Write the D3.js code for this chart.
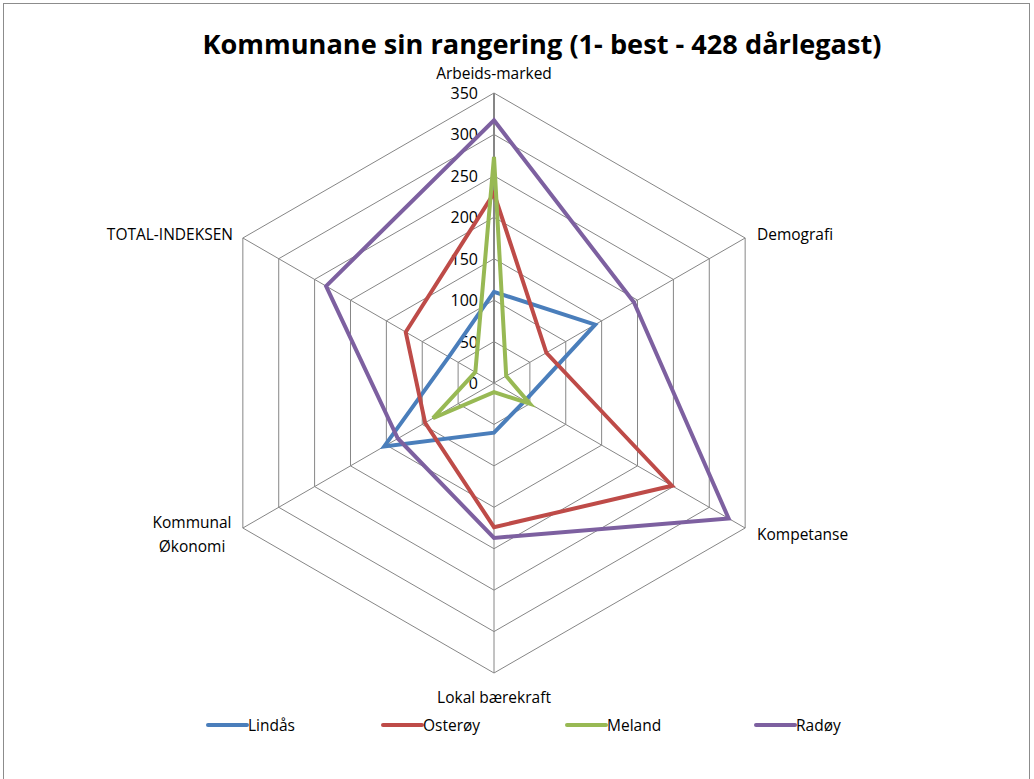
<!DOCTYPE html>
<html>
<head>
<meta charset="utf-8">
<script src="https://cdn.jsdelivr.net/npm/d3@7"></script>
<style>
  html, body { margin: 0; padding: 0; background: #fff; }
  svg { display: block; }
  text { font-family: "Open Sans", "Noto Sans", sans-serif; fill: #000; }
</style>
</head>
<body>
<svg id="chart" width="1034" height="779"></svg>
<script>
// Ranking per kommune on each index (1 = best, 428 = worst)
const axesNames = ["Arbeids-marked", "Demografi", "Kompetanse", "Lokal bærekraft", "Kommunal\nØkonomi", "TOTAL-INDEKSEN"];
const seriesNames = ["Lindås", "Osterøy", "Meland", "Radøy"];
const lindas  = [110, 141, 43, 60, 153, 63];
const osteroy = [229, 73, 248, 174, 96, 123];
const meland  = [273, 17, 50, 11, 85, 26];
const radoy   = [317, 195, 327, 187, 134, 234];
const tickValues = [0, 50, 100, 150, 200, 250, 300, 350];
const colors = ["#4A7EBB", "#BE4B48", "#98B954", "#7D60A0"];

const series = [lindas, osteroy, meland, radoy].map((v, i) => ({ name: seriesNames[i], values: v, color: colors[i] }));

const svg = d3.select("#chart");
const cx = 494, cy = 383, R = 290;
const r = d3.scaleLinear().domain([0, 350]).range([0, R]);
const n = axesNames.length;
const angle = i => -Math.PI / 2 + i * 2 * Math.PI / n;
const pt = (i, v) => [cx + r(v) * Math.cos(angle(i)), cy + r(v) * Math.sin(angle(i))];

// outer frame
svg.append("rect").attr("x", 3.5).attr("y", 3.5).attr("width", 1026).attr("height", 800)
  .attr("fill", "none").attr("stroke", "#8c8c8c").attr("stroke-width", 1);

// title
svg.append("text").attr("x", 542).attr("y", 54).attr("text-anchor", "middle")
  .attr("font-size", 27).attr("font-weight", "bold")
  .attr("textLength", 679).attr("lengthAdjust", "spacingAndGlyphs")
  .text("Kommunane sin rangering (1- best - 428 dårlegast)");

// grid rings
const grid = svg.append("g");
tickValues.filter(t => t > 0).forEach(t => {
  const pts = d3.range(n).map(i => pt(i, t));
  grid.append("polygon").attr("points", pts.map(p => p.join(",")).join(" "))
    .attr("fill", "none").attr("stroke", "#868686").attr("stroke-width", 1);
});
// spokes
d3.range(n).forEach(i => {
  const p = pt(i, 350);
  grid.append("line").attr("x1", cx).attr("y1", cy).attr("x2", p[0]).attr("y2", p[1])
    .attr("stroke", "#868686").attr("stroke-width", i === 0 ? 2 : 1);
});

// tick labels along the first axis
svg.append("g").selectAll("text").data(tickValues).join("text")
  .attr("x", cx - 16).attr("y", d => cy - r(d) + 6)
  .attr("text-anchor", "end").attr("font-size", 16)
  .text(d => d);

// series lines
const line = d3.line().curve(d3.curveLinearClosed);
svg.append("g").selectAll("path").data(series).join("path")
  .attr("d", s => line(s.values.map((v, i) => pt(i, v))))
  .attr("fill", "none").attr("stroke", s => s.color).attr("stroke-width", 4)
  .attr("stroke-linejoin", "miter");

// category labels
const labelPos = [
  { x: 494, y: 79, anchor: "middle" },
  { x: 757, y: 240, anchor: "start" },
  { x: 757, y: 540, anchor: "start" },
  { x: 494, y: 703, anchor: "middle" },
  { x: 192, y: 528, anchor: "middle" },
  { x: 233, y: 240, anchor: "end" }
];
axesNames.forEach((name, i) => {
  const lp = labelPos[i];
  const t = svg.append("text").attr("x", lp.x).attr("y", lp.y).attr("text-anchor", lp.anchor).attr("font-size", 15.5);
  name.split("\n").forEach((part, k) => {
    t.append("tspan").attr("x", lp.x).attr("dy", k === 0 ? 0 : 24).text(part);
  });
});

// legend
const legendX = [208, 383, 567, 756];
const lg = svg.append("g").selectAll("g").data(series).join("g")
  .attr("transform", (d, i) => `translate(${legendX[i]},725)`);
lg.append("line").attr("x1", 0).attr("x2", 39).attr("y1", 0).attr("y2", 0)
  .attr("stroke", d => d.color).attr("stroke-width", 4).attr("stroke-linecap", "round");
lg.append("text").attr("x", 40).attr("y", 6).attr("font-size", 15.5).text(d => d.name);
</script>
</body>
</html>
